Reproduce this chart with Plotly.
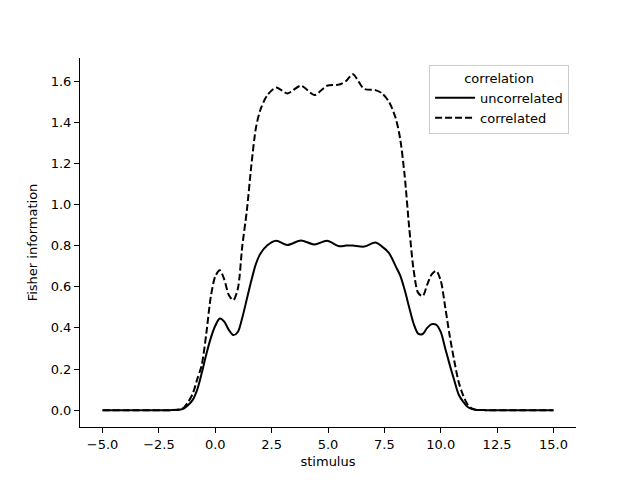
import plotly.graph_objects as go

stimulus = [-5, -2, -1.6, -1.4, -1.2, -1.0, -0.8, -0.6, -0.4, -0.2, 0, 0.2, 0.4, 0.6, 0.8,
            1.0, 1.2, 1.4, 1.6, 1.8, 2.0, 2.3, 2.7, 3.2, 3.8, 4.4, 4.95, 5.5, 5.8, 6.1, 6.6,
            7.1, 7.4, 7.7, 8.0, 8.2, 8.4, 8.6, 8.8, 9.0, 9.2, 9.4, 9.6, 9.8, 10.0, 10.2,
            10.4, 10.6, 10.8, 11.0, 11.2, 11.4, 11.6, 12, 15]

uncorrelated = [0, 0, 0.002, 0.008, 0.025, 0.05, 0.10, 0.18, 0.27, 0.35, 0.41, 0.445, 0.43, 0.39, 0.365,
                0.38, 0.45, 0.54, 0.63, 0.71, 0.76, 0.80, 0.823, 0.803, 0.825, 0.805, 0.823, 0.797, 0.800, 0.800, 0.795,
                0.815, 0.795, 0.765, 0.70, 0.655, 0.585, 0.50, 0.42, 0.372, 0.37, 0.40, 0.418, 0.415, 0.38, 0.30,
                0.22, 0.145, 0.075, 0.04, 0.015, 0.005, 0.001, 0, 0]

correlated = [0, 0, 0.003, 0.012, 0.04, 0.08, 0.15, 0.22, 0.37, 0.55, 0.65, 0.68, 0.635, 0.56, 0.535,
              0.59, 0.80, 0.97, 1.19, 1.37, 1.46, 1.53, 1.568, 1.54, 1.577, 1.532, 1.577, 1.583, 1.60, 1.633, 1.562,
              1.556, 1.54, 1.50, 1.42, 1.32, 1.14, 0.89, 0.68, 0.57, 0.555, 0.61, 0.66, 0.677, 0.63, 0.50,
              0.36, 0.24, 0.135, 0.07, 0.026, 0.007, 0.001, 0, 0]

font = "DejaVu Sans"

fig = go.Figure()
fig.add_trace(go.Scatter(x=stimulus, y=uncorrelated, mode="lines", name="uncorrelated",
                         line=dict(color="black", width=2, shape="spline", smoothing=0.8)))
fig.add_trace(go.Scatter(x=stimulus, y=correlated, mode="lines", name="correlated",
                         line=dict(color="black", width=2, dash="7px,3px", shape="spline", smoothing=0.8)))

fig.update_layout(
    width=640, height=480,
    margin=dict(l=72, r=72, t=50, b=61),
    paper_bgcolor="white", plot_bgcolor="white",
    font=dict(family=font, size=13, color="black"),
    showlegend=True,
    legend=dict(
        title=dict(text="correlation", side="top center", font=dict(size=13)),
        x=0.986, y=0.981, xanchor="right", yanchor="top",
        bordercolor="#cccccc", borderwidth=1, bgcolor="rgba(255,255,255,0.8)",
        font=dict(size=13), itemwidth=40,
    ),
    xaxis=dict(
        range=[-6, 16], tickvals=[-5, -2.5, 0, 2.5, 5, 7.5, 10, 12.5, 15], tickformat=".1f",
        showgrid=False, zeroline=False, showline=True, linecolor="black", linewidth=1,
        ticks="outside", ticklen=5, tickcolor="black",
        title=dict(text="stimulus", standoff=6, font=dict(size=13)),
    ),
    yaxis=dict(
        range=[-0.082, 1.712], tickvals=[0, 0.2, 0.4, 0.6, 0.8, 1.0, 1.2, 1.4, 1.6], tickformat=".1f",
        showgrid=False, zeroline=False, showline=True, linecolor="black", linewidth=1,
        ticks="outside", ticklen=5, tickcolor="black",
        title=dict(text="Fisher information", standoff=10, font=dict(size=13)),
    ),
)

fig.write_html("out.html")
